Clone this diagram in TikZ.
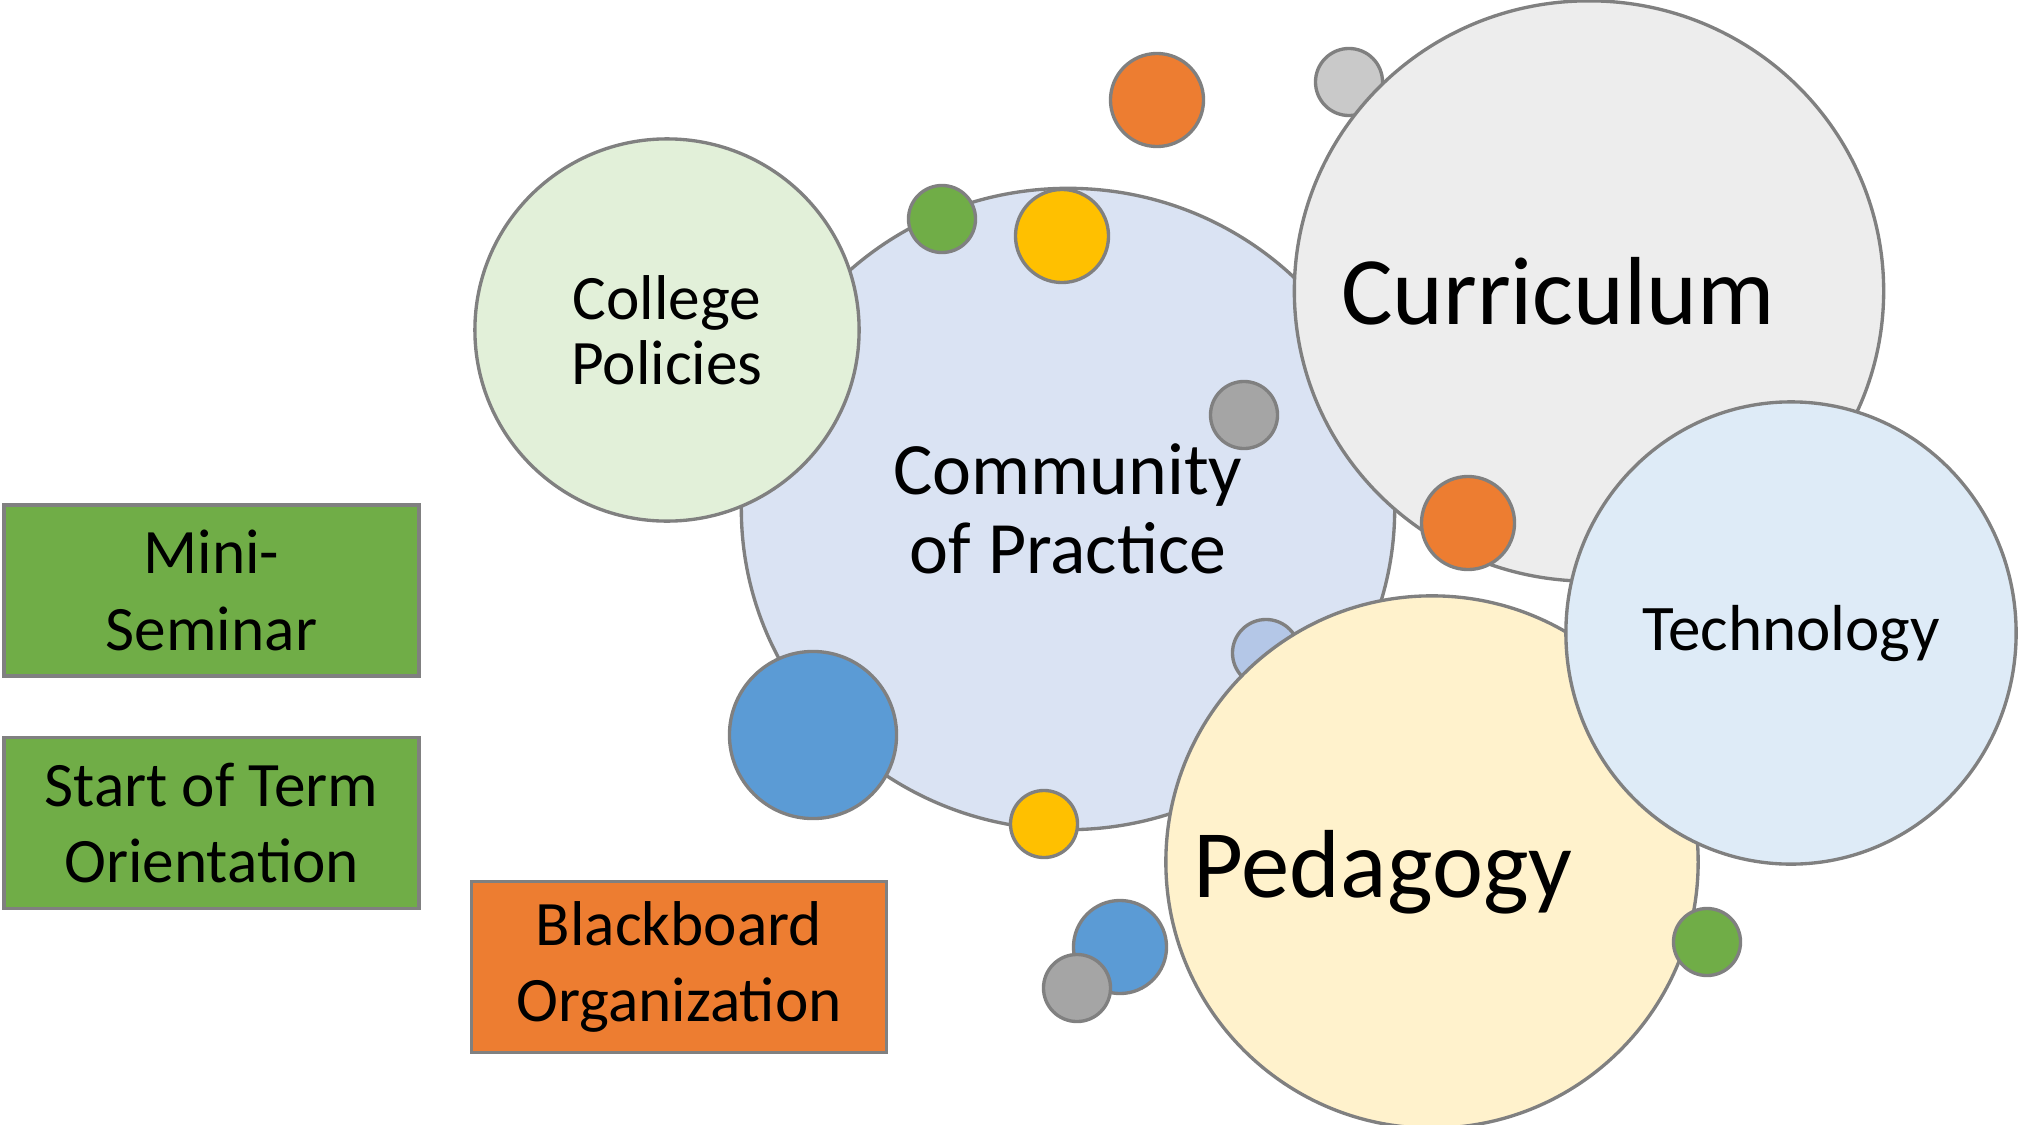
\documentclass[tikz,border=0pt]{standalone}
\usepackage{fontspec}
\setmainfont{Carlito}
\usetikzlibrary{shapes.geometric}

\definecolor{linegray}{HTML}{808080}
\definecolor{commfill}{HTML}{DAE3F3}
\definecolor{collfill}{HTML}{E2F0D9}
\definecolor{currfill}{HTML}{EDEDED}
\definecolor{techfill}{HTML}{DEEBF7}
\definecolor{pedafill}{HTML}{FFF2CC}
\definecolor{dotorange}{HTML}{ED7D31}
\definecolor{dotgreen}{HTML}{70AD47}
\definecolor{dotyellow}{HTML}{FFC000}
\definecolor{dotgray}{HTML}{A5A5A5}
\definecolor{dotsilver}{HTML}{C9C9C9}
\definecolor{dotsky}{HTML}{B4C7E7}
\definecolor{dotblue}{HTML}{5B9BD5}

\begin{document}
\begin{tikzpicture}[x=0.01cm, y=-0.01cm,
	bubble/.style={shape=ellipse, draw=linegray, line width=0.95pt, inner sep=0pt, align=center},
	dot/.style={shape=circle, draw=linegray, line width=0.95pt, inner sep=0pt},
	smalldot/.style={dot, minimum size=0.67cm},
	middot/.style={dot, minimum size=0.93cm},
	tag/.style={shape=rectangle, draw=linegray, line width=0.95pt, align=center,
		minimum width=4.15cm, minimum height=1.71cm, font=\fontsize{18}{21.8}\selectfont}]
	\useasboundingbox (0,0) rectangle (2018,1124);

	% big bubbles, back to front
	\node[bubble, fill=commfill, minimum width=6.53cm, minimum height=6.41cm,
		font=\fontsize{21}{22.5}\selectfont]                                            (comm) at (1068,509)  {Community\\of Practice};
	\node[bubble, fill=collfill, minimum width=3.84cm, minimum height=3.82cm,
		font=\fontsize{18}{18.6}\selectfont]                                            (coll) at (667,330)   {College\\Policies};
	\node[smalldot, fill=dotsky]                                                    (sky)  at (1266,653)  {};
	\node[smalldot, fill=dotsilver]                                                 (silv) at (1349,82)   {};
	\node[bubble, fill=currfill, minimum width=5.89cm, minimum height=5.80cm,
		label={[font=\fontsize{27.5}{30}\selectfont, xshift=-0.31cm]center:Curriculum}] (curr) at (1589,291)  {};
	\node[bubble, fill=pedafill, minimum width=5.32cm, minimum height=5.32cm,
		label={[font=\fontsize{27.5}{30}\selectfont, xshift=-0.49cm, yshift=-0.1cm]center:Pedagogy}] (peda) at (1432,862) {};
	\node[bubble, fill=techfill, minimum width=4.50cm, minimum height=4.62cm,
		font=\fontsize{18.5}{20}\selectfont]                                            (tech) at (1791,633)  {Technology};

	% small dots on top
	\node[middot, fill=dotorange]                 (or1) at (1157,100) {};
	\node[smalldot, fill=dotgreen]                (gr1) at (942,219)  {};
	\node[middot, fill=dotyellow]                 (ye1) at (1062,236) {};
	\node[smalldot, fill=dotgray]                 (ga1) at (1244,415) {};
	\node[middot, fill=dotorange]                 (or2) at (1468,523) {};
	\node[dot, fill=dotblue, minimum size=1.67cm] (bl1) at (813,735)  {};
	\node[smalldot, fill=dotyellow]               (ye2) at (1044,824) {};
	\node[middot, fill=dotblue]                   (bl2) at (1120,947) {};
	\node[smalldot, fill=dotgray]                 (ga2) at (1077,988) {};
	\node[smalldot, fill=dotgreen]                (gr2) at (1707,942) {};

	% boxes
	\node[tag, fill=dotgreen]  (mini)  at (211.5,590.5) {Mini-\\Seminar};
	\node[tag, fill=dotgreen]  (start) at (211.5,823)   {Start of Term\\Orientation};
	\node[tag, fill=dotorange] (black) at (679,967)     {Blackboard\\Organization};
\end{tikzpicture}
\end{document}
